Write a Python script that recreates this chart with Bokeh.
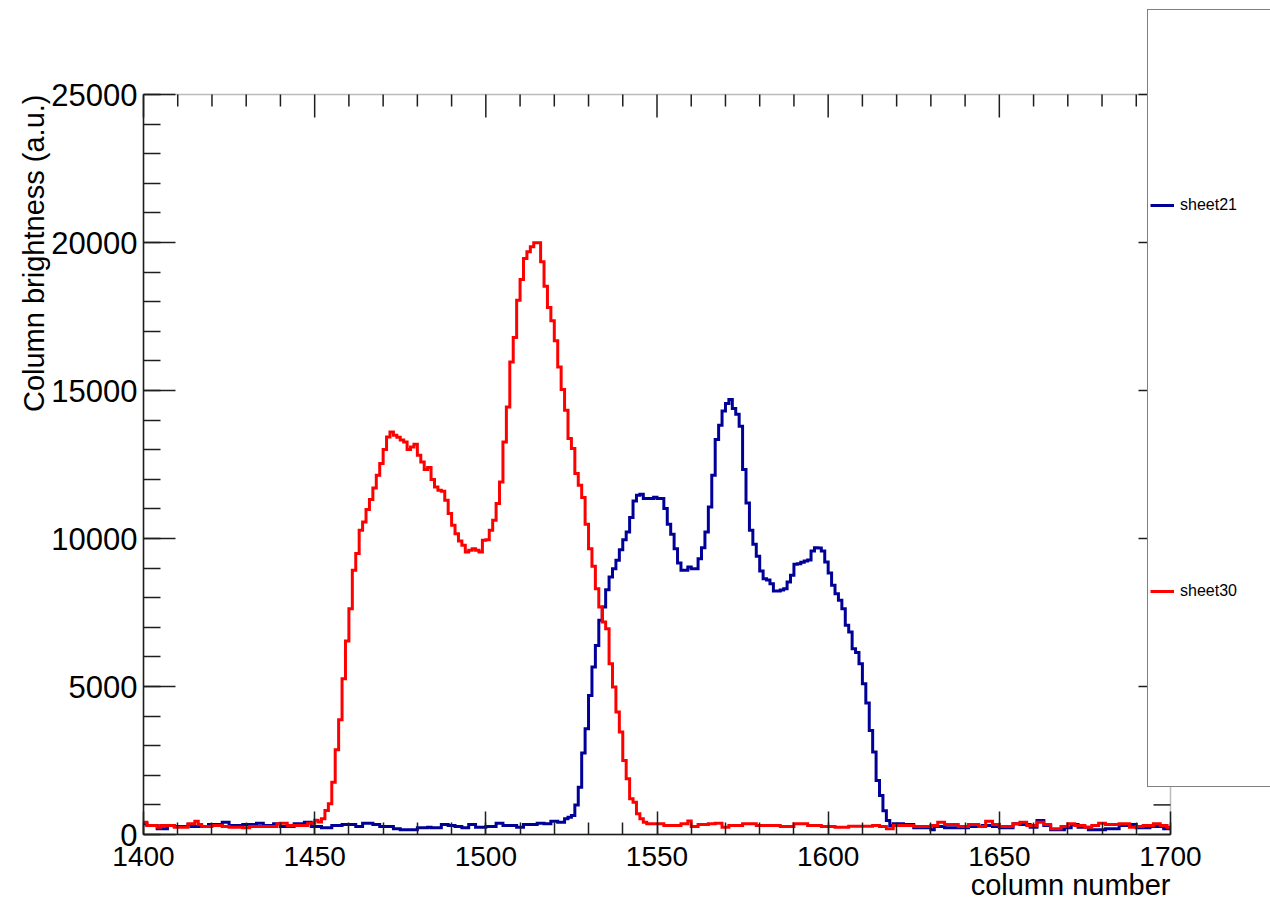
import numpy as np
from bokeh.plotting import figure
from bokeh.models import (Range1d, SingleIntervalTicker, Legend, LegendItem,
                          Label, BoxAnnotation)
from bokeh.embed import file_html
from bokeh.resources import INLINE

# ---------------- data ----------------
first_column = 1400          # low edge of the first bin
bin_width = 1
series_names = ["sheet21", "sheet30"]
series_colors = ["#000099", "#ff0000"]

# column brightness per bin, columns 1400 ... 1699
sheet21 = [
    360, 304, 304, 304, 192, 192, 192, 304, 304, 270,
    270, 270, 270, 338, 270, 270, 270, 270, 270, 338,
    338, 338, 338, 417, 417, 304, 304, 304, 304, 338,
    338, 338, 338, 383, 383, 304, 304, 304, 360, 360,
    270, 270, 270, 270, 360, 360, 360, 417, 417, 270,
    270, 270, 225, 225, 225, 304, 304, 304, 338, 338,
    338, 338, 270, 270, 383, 383, 383, 338, 338, 270,
    270, 270, 270, 192, 192, 158, 158, 158, 158, 158,
    225, 225, 225, 248, 225, 225, 225, 338, 338, 304,
    304, 270, 270, 225, 225, 338, 338, 248, 248, 248,
    270, 270, 270, 383, 383, 304, 304, 304, 304, 248,
    248, 338, 338, 338, 338, 383, 383, 360, 360, 450,
    450, 417, 417, 530, 586, 642, 1000, 1600, 2750, 3572,
    4699, 5657, 6389, 7235, 7686, 8272, 8700, 8982, 9263, 9623,
    9961, 10220, 10706, 11269, 11460, 11494, 11348, 11348, 11348, 11390,
    11348, 11348, 11011, 10480, 10142, 9657, 9172, 8925, 8925, 9037,
    8982, 8982, 9320, 9691, 10220, 11064, 12137, 13342, 13826, 14311,
    14558, 14693, 14390, 14198, 13792, 12329, 11200, 10277, 9804, 9398,
    8902, 8644, 8600, 8475, 8227, 8227, 8260, 8300, 8531, 8756,
    9128, 9150, 9200, 9240, 9270, 9577, 9690, 9680, 9577, 9206,
    8834, 8418, 8137, 7911, 7630, 7066, 6839, 6277, 6150, 5770,
    5094, 4440, 3516, 2783, 1826, 1318, 800, 473, 304, 360,
    360, 360, 338, 338, 338, 225, 225, 225, 225, 225,
    158, 270, 270, 270, 225, 225, 225, 225, 225, 225,
    225, 270, 270, 270, 270, 304, 304, 304, 270, 270,
    225, 225, 225, 225, 360, 360, 338, 338, 338, 248,
    248, 473, 473, 304, 304, 158, 158, 158, 158, 225,
    225, 338, 338, 248, 248, 248, 158, 158, 158, 158,
    158, 192, 192, 192, 192, 304, 304, 304, 338, 338,
    225, 225, 225, 225, 270, 270, 270, 270, 192, 192,
]

sheet30 = [
    417, 304, 304, 304, 248, 304, 304, 304, 304, 248,
    248, 248, 248, 360, 360, 450, 338, 270, 270, 270,
    304, 304, 304, 270, 270, 248, 248, 248, 248, 225,
    225, 270, 270, 270, 270, 270, 270, 270, 270, 360,
    383, 383, 304, 304, 304, 304, 304, 304, 383, 383,
    485, 420, 530, 811, 1037, 1769, 2862, 3876, 5262, 6537,
    7630, 8925, 9490, 10277, 10560, 10976, 11315, 11708, 12137, 12532,
    13005, 13432, 13601, 13489, 13420, 13330, 13263, 13005, 13094, 13185,
    12813, 12587, 12329, 12400, 11991, 11742, 11630, 11600, 11291, 10841,
    10446, 10164, 9915, 9770, 9544, 9600, 9657, 9600, 9544, 9939,
    9960, 10277, 10615, 11179, 11910, 13263, 14446, 15967, 16791, 18053,
    18753, 19463, 19686, 19855, 19990, 19990, 19348, 18526, 17806, 17353,
    16677, 15798, 15034, 14334, 13376, 13038, 12194, 11799, 11383, 10480,
    9657, 9060, 8306, 7685, 7179, 6952, 5770, 4980, 4136, 3460,
    2502, 1882, 1206, 1093, 699, 530, 417, 360, 360, 360,
    360, 360, 304, 304, 304, 304, 304, 360, 360, 452,
    270, 270, 338, 338, 338, 360, 360, 383, 383, 248,
    248, 304, 304, 304, 304, 360, 360, 360, 360, 304,
    304, 304, 304, 304, 304, 304, 270, 270, 270, 270,
    360, 360, 360, 360, 304, 304, 304, 304, 270, 270,
    270, 270, 248, 248, 248, 248, 280, 280, 280, 280,
    280, 280, 280, 304, 304, 270, 270, 192, 192, 304,
    304, 304, 304, 304, 304, 270, 270, 270, 270, 270,
    304, 304, 417, 417, 338, 338, 338, 338, 270, 270,
    270, 338, 338, 338, 270, 270, 450, 450, 338, 338,
    270, 270, 270, 270, 360, 360, 417, 417, 304, 304,
    304, 417, 417, 338, 338, 192, 192, 192, 270, 270,
    360, 360, 304, 304, 304, 248, 248, 304, 304, 383,
    383, 338, 338, 338, 338, 360, 360, 360, 248, 248,
    270, 270, 304, 304, 304, 360, 360, 304, 304, 248,
]

x_start, x_end = 1400, 1700
y_start, y_end = 0, 25000
x_major, x_minor = 50, 10
y_major, y_minor = 5000, 1000
x_title = "column number"
y_title = "Column brightness (a.u.)"

FONT = "Liberation Sans"
AXIS_COLOR = "#1e1e1e"

# ---------------- layout (pixels) ----------------
W, H = 1270, 901
FL, FR, FT, FB = 143, 1170, 94, 834          # axes box on the canvas
XMAJ_LEN, XMIN_LEN = 23, 12                  # tick lengths (px)
YMAJ_LEN, YMIN_LEN = 32, 17

xs = (FR - FL) / (x_end - x_start)           # px per data unit
ys = (FB - FT) / (y_end - y_start)

p = figure(width=W, height=H,
           x_range=Range1d(x_start - FL / xs, x_end + (W - FR) / xs),
           y_range=Range1d(y_start - (H - FB) / ys, y_end + FT / ys),
           min_border=0, toolbar_location=None, output_backend="svg",
           background_fill_color="white", border_fill_color="white")
p.grid.visible = False
p.outline_line_color = None

xt = SingleIntervalTicker(interval=x_major, num_minor_ticks=x_major // x_minor)
yt = SingleIntervalTicker(interval=y_major, num_minor_ticks=y_major // y_minor)

for ax, ticker, bounds, loc, tin, tmin, fs in (
        (p.xaxis[0], xt, (x_start, x_end), y_start, XMAJ_LEN, XMIN_LEN, "28px"),
        (p.yaxis[0], yt, (y_start, y_end), x_start, YMAJ_LEN, YMIN_LEN, "31px")):
    ax.ticker = ticker
    ax.bounds = bounds
    ax.fixed_location = loc
    ax.axis_line_color = AXIS_COLOR
    ax.axis_line_width = 1.5
    ax.major_tick_line_color = AXIS_COLOR
    ax.minor_tick_line_color = AXIS_COLOR
    ax.major_tick_line_width = 1.5
    ax.minor_tick_line_width = 1.5
    ax.major_tick_out = 0
    ax.minor_tick_out = 0
    ax.major_tick_in = tin
    ax.minor_tick_in = tmin
    ax.major_label_text_font = FONT
    ax.major_label_text_font_size = fs
    ax.major_label_text_color = "black"
p.xaxis.major_label_standoff = 12
p.yaxis.major_label_standoff = 6

# frame: top and right edges
p.add_layout(BoxAnnotation(left=x_start, right=x_end, bottom=y_start, top=y_end,
                           fill_alpha=0, line_color=AXIS_COLOR, line_width=1.5))

# ticks on the top and right edges, from the same tick positions
x_ticks = np.arange(x_start, x_end + 1, x_minor)
y_ticks = np.arange(y_start, y_end + 1, y_minor)
x_len = np.where(x_ticks % x_major == 0, XMAJ_LEN, XMIN_LEN) / ys
y_len = np.where(y_ticks % y_major == 0, YMAJ_LEN, YMIN_LEN) / xs
p.segment(x0=x_ticks, y0=y_end, x1=x_ticks, y1=y_end - x_len,
          line_color=AXIS_COLOR, line_width=1.5)
p.segment(x0=x_end, y0=y_ticks, x1=x_end - y_len, y1=y_ticks,
          line_color=AXIS_COLOR, line_width=1.5)

# ---------------- histograms ----------------
edges = first_column + bin_width * np.arange(len(sheet21) + 1)
renderers = []
for vals, color in zip([sheet21, sheet30], series_colors):
    y = list(vals) + [vals[-1]]
    r = p.step(x=edges, y=y, mode="after", line_color=color, line_width=3,
               line_join="miter")
    renderers.append(r)

# ---------------- legend ----------------
legend = Legend(items=[LegendItem(label=n, renderers=[r])
                       for n, r in zip(series_names, renderers)],
                location=(1147, H - 787), margin=0, padding=2, spacing=0,
                glyph_width=24, glyph_height=386, label_height=386,
                label_width=96, label_standoff=6,
                label_text_font=FONT, label_text_font_size="16px",
                label_text_color="black",
                border_line_color="black", border_line_width=1.5,
                background_fill_color="white", background_fill_alpha=1.0)
p.add_layout(legend)

# ---------------- axis titles ----------------
p.add_layout(Label(x=x_end, y=H - 884, x_units="data", y_units="screen",
                   text=x_title, text_align="right", text_baseline="middle",
                   text_font=FONT, text_font_size="29px", text_color="black"))
p.add_layout(Label(x=33, y=y_end, x_units="screen", y_units="data",
                   text=y_title, angle=np.pi / 2, text_align="right",
                   text_baseline="middle",
                   text_font=FONT, text_font_size="29px", text_color="black"))

open("out.html", "w").write(file_html(p, INLINE))
